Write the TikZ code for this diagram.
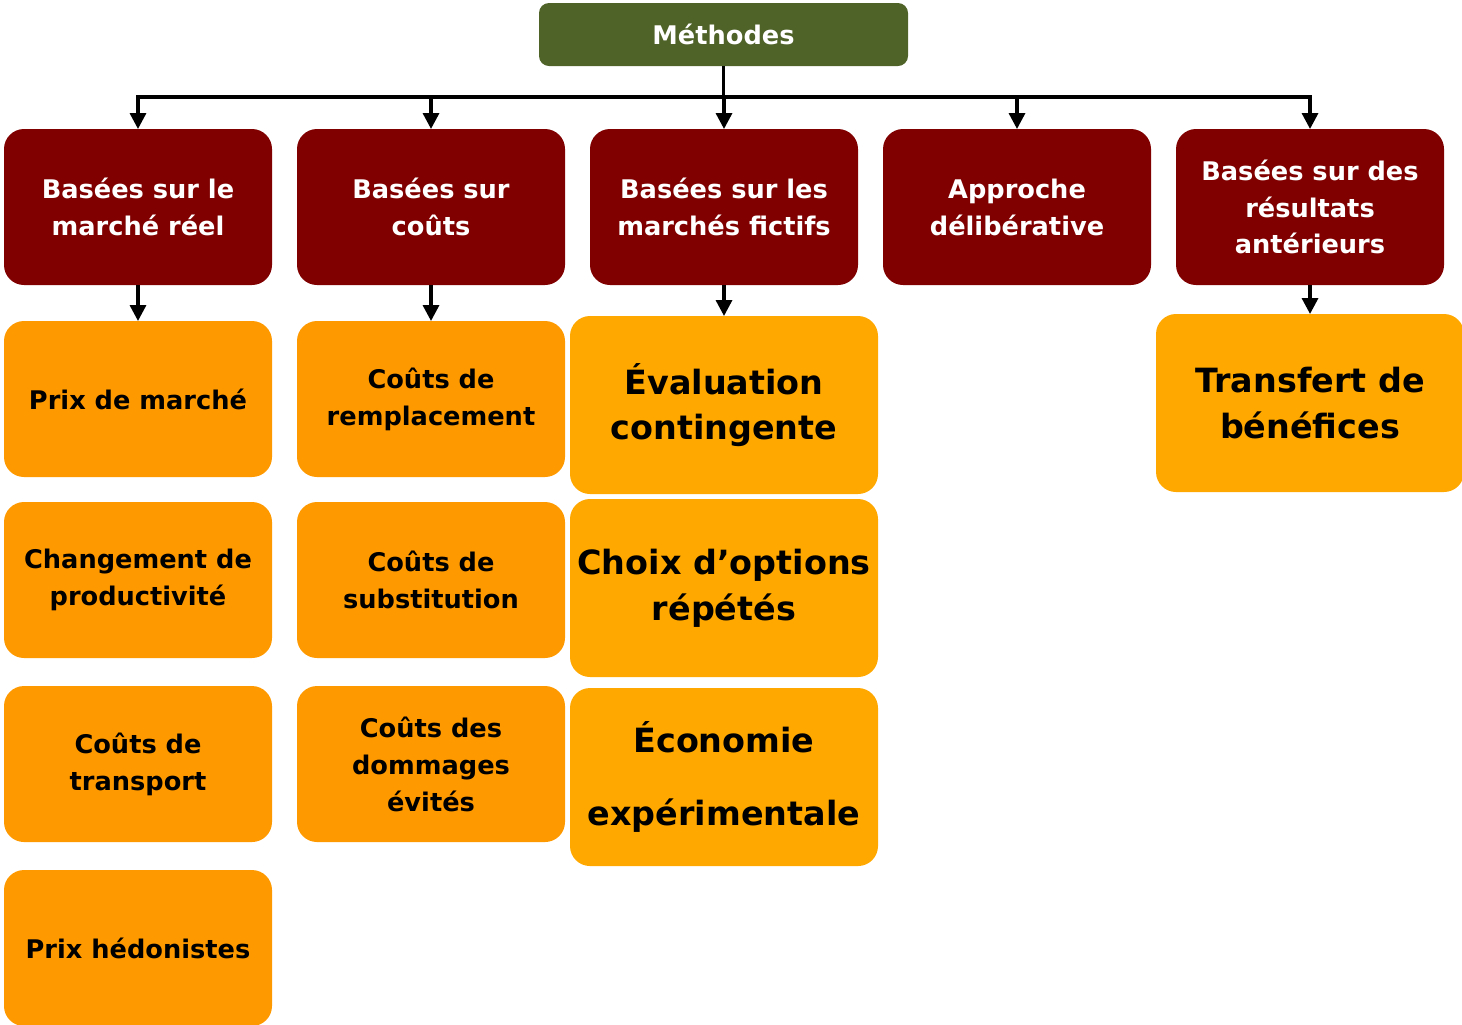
\documentclass[tikz,border=0pt]{standalone}
\usepackage{fontspec}
\setmainfont{DejaVu Sans}
\usetikzlibrary{positioning,arrows.meta}

\definecolor{methgreen}{HTML}{4F6228}
\definecolor{methred}{HTML}{800000}
\definecolor{methorange}{HTML}{FF9900}
\definecolor{methamber}{HTML}{FFA800}

\begin{document}
\begin{tikzpicture}[->,>={Triangle[length=4.5pt,width=4.5pt]},line width=0.95pt,
	every node/.style={align=center,font=\bfseries\fontsize{7.3}{10.5}\selectfont},
	box/.style={rounded corners=0.2cm,minimum width=2.68cm,minimum height=1.56cm,
		inner sep=0pt,outer sep=0pt},
	head/.style={box,fill=methgreen,text=white,minimum width=3.69cm,minimum height=0.63cm,rounded corners=0.1cm},
	cat/.style={box,fill=methred,text=white},
	meth/.style={box,fill=methorange},
	bigmeth/.style={box,fill=methamber,minimum width=3.08cm,minimum height=1.78cm,
		font=\bfseries\fontsize{9.5}{13}\selectfont}]
	
	\useasboundingbox (0,0) rectangle (14.62,-10.24);
	
	\node[head] (M) at (7.235,-0.345) {Méthodes};
	
	\node[cat] (C1) at (1.38,-2.07) {Basées sur le\\marché réel};
	\node[cat] (C2) at (4.31,-2.07) {Basées sur\\coûts};
	\node[cat] (C3) at (7.24,-2.07) {Basées sur les\\marchés fictifs};
	\node[cat] (C4) at (10.17,-2.07) {Approche\\délibérative};
	\node[cat] (C5) at (13.10,-2.07) {Basées sur des\\résultats\\antérieurs};
	
	% marche reel
	\node[meth] (A1) [below=0.36 of C1] {Prix de marché};
	\node[meth] (A2) [below=0.25 of A1] {Changement de\\productivité};
	\node[meth] (A3) [below=0.28 of A2] {Coûts de\\transport};
	\node[meth] (A4) [below=0.28 of A3] {Prix hédonistes};
	
	% couts
	\node[meth] (B1) [below=0.36 of C2] {Coûts de\\remplacement};
	\node[meth] (B2) [below=0.25 of B1] {Coûts de\\substitution};
	\node[meth] (B3) [below=0.28 of B2] {Coûts des\\dommages\\évités};
	
	% marches fictifs
	\node[bigmeth] (F1) [below=0.31 of C3] {Évaluation\\contingente};
	\node[bigmeth] (F2) [below=0.05 of F1] {Choix d’options\\répétés};
	\node[bigmeth] (F3) [below=0.11 of F2] {Économie\\[0.28cm]expérimentale};
	
	% resultats anterieurs
	\node[bigmeth] (T1) [below=0.29 of C5] {Transfert de\\bénéfices};
	
	\foreach \c in {C1,C2,C3,C4,C5}
		\draw (M.south) -- ++(0,-0.31) -| (\c.north);
	
	\draw (C1.south) -- (A1.north);
	\draw (C2.south) -- (B1.north);
	\draw (C3.south) -- (F1.north);
	\draw (C5.south) -- (T1.north);
\end{tikzpicture}
\end{document}
